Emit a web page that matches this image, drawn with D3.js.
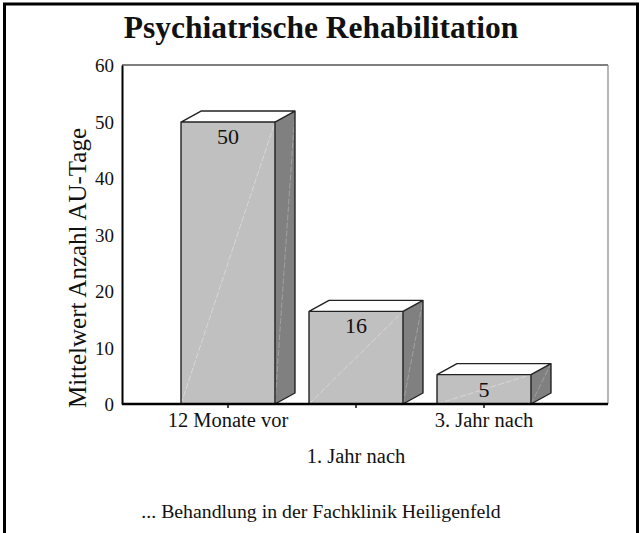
<!DOCTYPE html>
<html>
<head>
<meta charset="utf-8">
<script src="https://cdn.jsdelivr.net/npm/d3@7"></script>
<style>
  body { margin: 0; background: #fff; }
  svg text { font-family: "Liberation Serif", "DejaVu Serif", serif !important; fill: #111; }
</style>
</head>
<body>
<svg id="chart" width="642" height="533"></svg>
<script>
// data
const categories = ["12 Monate vor", "1. Jahr nach", "3. Jahr nach"];
const values     = [49.9, 16.4, 5.2];
const yTicks     = [0, 10, 20, 30, 40, 50, 60];

const svg = d3.select("#chart");

// plot box (front plane) and 3d depth of the columns
const plot  = {left: 122, right: 608, top: 65, bottom: 404},
      depth = {dx: 20, dy: -11};

const y = d3.scaleLinear().domain([0, 60]).range([plot.bottom, plot.top]);
const x = d3.scaleBand().domain(categories).range([164, 548])
            .paddingInner(0.266).paddingOuter(0.133);

// outer frame
svg.append("rect")
    .attr("x", 4.5).attr("y", 4).attr("width", 633).attr("height", 540)
    .attr("fill", "none").attr("stroke", "#000").attr("stroke-width", 3);

// title
svg.append("text")
    .attr("x", 321).attr("y", 38)
    .attr("text-anchor", "middle")
    .style("font-size", "31.5px").style("font-weight", "bold")
    .text("Psychiatrische Rehabilitation");

// back wall: top and right edge
svg.append("line")
    .attr("x1", plot.left).attr("x2", plot.right)
    .attr("y1", plot.top).attr("y2", plot.top)
    .attr("stroke", "#000").attr("stroke-width", 1.2);
svg.append("line")
    .attr("x1", plot.right).attr("x2", plot.right)
    .attr("y1", plot.top).attr("y2", plot.bottom)
    .attr("stroke", "#888").attr("stroke-width", 1.2);

// columns
const bars = svg.append("g").selectAll("g")
    .data(values)
    .enter().append("g");

const x0 = (d, i) => x(categories[i]),
      x1 = (d, i) => x(categories[i]) + x.bandwidth();

// front face
bars.append("rect")
    .attr("x", x0)
    .attr("y", d => y(d))
    .attr("width", x.bandwidth())
    .attr("height", d => plot.bottom - y(d))
    .attr("fill", "#c0c0c0");
// side face
bars.append("path")
    .attr("d", (d, i) => `M${x1(d, i)},${plot.bottom}L${x1(d, i) + depth.dx},${plot.bottom + depth.dy}` +
                         `L${x1(d, i) + depth.dx},${y(d) + depth.dy}L${x1(d, i)},${y(d)}Z`)
    .attr("fill", "#808080");
// top face
bars.append("path")
    .attr("d", (d, i) => `M${x0(d, i)},${y(d)}L${x0(d, i) + depth.dx},${y(d) + depth.dy}` +
                         `L${x1(d, i) + depth.dx},${y(d) + depth.dy}L${x1(d, i)},${y(d)}Z`)
    .attr("fill", "#fff");

// faint diagonals of the faces
bars.append("line")
    .attr("x1", x0).attr("y1", plot.bottom)
    .attr("x2", x1).attr("y2", d => y(d))
    .attr("stroke", "#dcdcdc").attr("stroke-width", 0.8).attr("stroke-dasharray", "6,2");
bars.append("line")
    .attr("x1", x1).attr("y1", plot.bottom)
    .attr("x2", (d, i) => x1(d, i) + depth.dx).attr("y2", d => y(d) + depth.dy)
    .attr("stroke", "#a8a8a8").attr("stroke-width", 0.8).attr("stroke-dasharray", "6,2");

// outlines
bars.append("path")
    .attr("d", (d, i) => {
      const a = x0(d, i), b = x1(d, i), t = y(d);
      return `M${a},${plot.bottom}V${t}H${b}V${plot.bottom}` +
             `M${a},${t}L${a + depth.dx},${t + depth.dy}H${b + depth.dx}L${b},${t}` +
             `M${b + depth.dx},${t + depth.dy}V${plot.bottom + depth.dy}L${b},${plot.bottom}`;
    })
    .attr("fill", "none").attr("stroke", "#222").attr("stroke-width", 1.4)
    .attr("stroke-linejoin", "round");

// value labels
bars.append("text")
    .attr("x", (d, i) => x(categories[i]) + x.bandwidth() / 2)
    .attr("y", d => y(d) + 22)
    .attr("text-anchor", "middle")
    .style("font-size", "22px")
    .text(d => d3.format(".0f")(d));

// y axis
const gy = svg.append("g")
    .attr("transform", `translate(${plot.left},0)`)
    .call(d3.axisLeft(y).tickValues(yTicks).tickSize(0).tickPadding(8));
gy.attr("font-family", null);
gy.select(".domain").attr("stroke", "#000").attr("stroke-width", 2);
gy.selectAll("text").style("font-size", "19px").attr("dy", "0.35em");

// x axis, labels staggered on two rows
const gx = svg.append("g")
    .attr("transform", `translate(0,${plot.bottom})`)
    .call(d3.axisBottom(x).tickSize(4).tickPadding(4));
gx.attr("font-family", null);
gx.select(".domain").attr("d", `M${plot.left},0H${plot.right}`)
    .attr("stroke", "#000").attr("stroke-width", 2.4);
gx.selectAll(".tick line").attr("stroke", "#000").attr("stroke-width", 1.4);
gx.selectAll("text")
    .style("font-size", "20.5px")
    .attr("dy", null)
    .attr("y", (d, i) => i % 2 ? 59 : 23);

// axis titles
svg.append("text")
    .attr("transform", "translate(86,268) rotate(-90)")
    .attr("text-anchor", "middle")
    .style("font-size", "25px")
    .text("Mittelwert Anzahl AU-Tage");

svg.append("text")
    .attr("x", 321).attr("y", 518)
    .attr("text-anchor", "middle")
    .style("font-size", "19.8px")
    .text("... Behandlung in der Fachklinik Heiligenfeld");
</script>
</body>
</html>
